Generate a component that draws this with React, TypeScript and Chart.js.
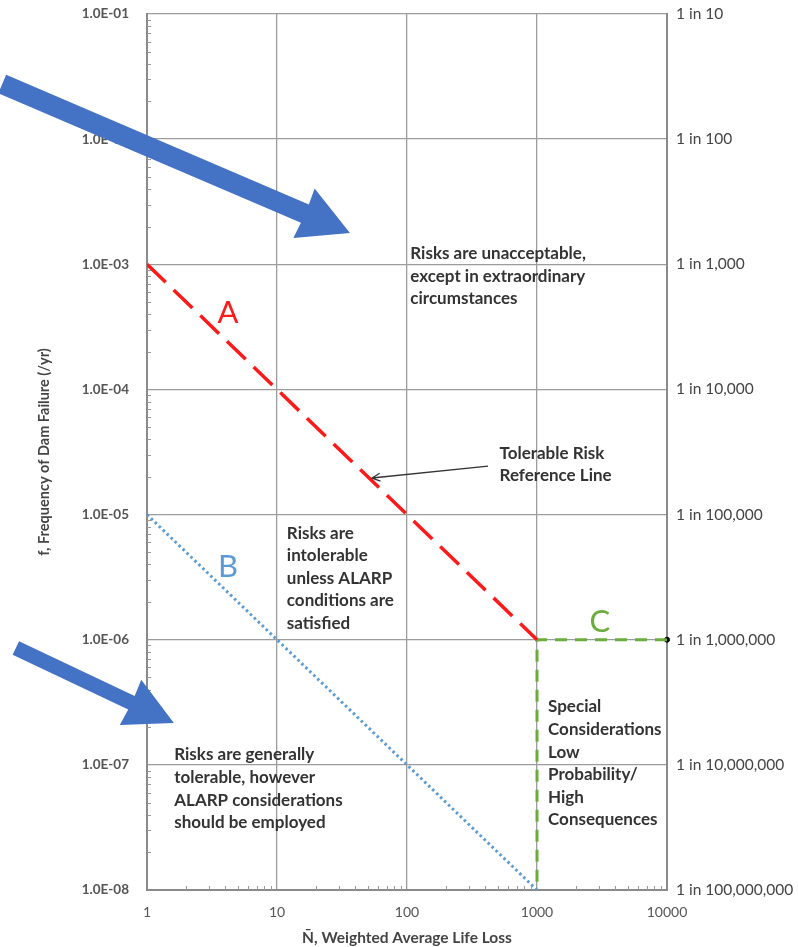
import React, { useEffect, useRef } from "react";
import { Chart, registerables } from "chart.js";

Chart.register(...registerables);

// ---- data ----
const xTicks = [1, 10, 100, 1000, 10000];
const xTickLabels = ["1", "10", "100", "1000", "10000"];
const yTicks = [1e-8, 1e-7, 1e-6, 1e-5, 1e-4, 1e-3, 1e-2, 1e-1];
const yTickLabels = ["1.0E-08", "1.0E-07", "1.0E-06", "1.0E-05", "1.0E-04", "1.0E-03", "1.0E-02", "1.0E-01"];
const yRightLabels = [
  "1 in 100,000,000",
  "1 in 10,000,000",
  "1 in 1,000,000",
  "1 in 100,000",
  "1 in 10,000",
  "1 in 1,000",
  "1 in 100",
  "1 in 10",
];

const lineAX = [1, 1000];
const lineAY = [1e-3, 1e-6];
const lineBX = [1, 1000];
const lineBY = [1e-5, 1e-8];
const lineCX = [10000, 1000, 1000];
const lineCY = [1e-6, 1e-6, 1e-8];
const markerX = [10000];
const markerY = [1e-6];

const xTitle = "N\u0304, Weighted Average Life Loss";
const yTitle = "f, Frequency of Dam Failure (/yr)";

const unacceptableLines = ["Risks are unacceptable,", "except in extraordinary", "circumstances"];
const referenceLines = ["Tolerable Risk", "Reference Line"];
const intolerableLines = ["Risks are", "intolerable", "unless ALARP", "conditions are", "satisfied"];
const tolerableLines = ["Risks are generally", "tolerable, however", "ALARP considerations", "should be employed"];
const specialLines = ["Special", "Considerations", "Low", "Probability/", "High", "Consequences"];
const lineLabels = ["A", "B", "C"];

// ---- annotation layout (data coordinates) ----
const textBlocks = [
  { lines: unacceptableLines, x: 106, y: 1.22e-3 },
  { lines: referenceLines, x: 515, y: 3.1e-5 },
  { lines: intolerableLines, x: 11.9, y: 7.1e-6 },
  { lines: tolerableLines, x: 1.62, y: 1.2e-7 },
  { lines: specialLines, x: 1216, y: 2.9e-7 },
];
const letterAnchors = [
  { x: 4.2, y: 4.1e-4, color: "#ff1a1a" },
  { x: 4.2, y: 3.8e-6, color: "#5b9bd5" },
  { x: 3050, y: 1.39e-6, color: "#6aad3d" },
];
const pointerFrom = { x: 420, y: 2.44e-5 };
const pointerTo = { x: 53.8, y: 1.96e-5 };
const bigArrows = [
  { from: { x: 0.077, y: 0.0276 }, to: { x: 36.4, y: 1.78e-3 }, shaft: 20, headLen: 50, headHalf: 27 },
  { from: { x: 0.098, y: 8.6e-7 }, to: { x: 1.61, y: 2.16e-7 }, shaft: 15, headLen: 48, headHalf: 25 },
];

const FONT = "Lato, 'Open Sans', sans-serif";

const overlayPlugin = {
  id: "overlay",
  afterDraw(chart: any) {
    const { ctx, chartArea } = chart;
    const xs = chart.scales.x;
    const ys = chart.scales.y;
    ctx.save();

    // minor ticks (inside)
    ctx.strokeStyle = "#999999";
    ctx.lineWidth = 1;
    ctx.beginPath();
    for (let d = -8; d < -1; d++) {
      for (let k = 2; k <= 9; k++) {
        const py = Math.round(ys.getPixelForValue(k * Math.pow(10, d))) + 0.5;
        ctx.moveTo(chartArea.left, py);
        ctx.lineTo(chartArea.left + 4, py);
      }
    }
    for (let d = 0; d < 4; d++) {
      for (let k = 2; k <= 9; k++) {
        const px = Math.round(xs.getPixelForValue(k * Math.pow(10, d))) + 0.5;
        ctx.moveTo(px, chartArea.bottom);
        ctx.lineTo(px, chartArea.bottom - 4);
      }
    }
    ctx.stroke();

    // text blocks
    ctx.fillStyle = "#333333";
    ctx.font = `bold 17px ${FONT}`;
    ctx.textAlign = "left";
    ctx.textBaseline = "middle";
    for (const b of textBlocks) {
      const px = xs.getPixelForValue(b.x);
      const py = ys.getPixelForValue(b.y);
      b.lines.forEach((t, i) => ctx.fillText(t, px, py + i * 22.6));
    }

    // A / B / C labels
    ctx.font = `31px ${FONT}`;
    ctx.textAlign = "center";
    lineLabels.forEach((t, i) => {
      const a = letterAnchors[i];
      ctx.fillStyle = a.color;
      ctx.fillText(t, xs.getPixelForValue(a.x), ys.getPixelForValue(a.y));
    });

    // pointer arrow
    const fx = xs.getPixelForValue(pointerFrom.x);
    const fy = ys.getPixelForValue(pointerFrom.y);
    const tx = xs.getPixelForValue(pointerTo.x);
    const ty = ys.getPixelForValue(pointerTo.y);
    ctx.strokeStyle = "#333";
    ctx.lineWidth = 1.3;
    ctx.beginPath();
    ctx.moveTo(fx, fy);
    ctx.lineTo(tx, ty);
    const ang = Math.atan2(ty - fy, tx - fx);
    const hl = 9;
    ctx.moveTo(tx - hl * Math.cos(ang - 0.45), ty - hl * Math.sin(ang - 0.45));
    ctx.lineTo(tx, ty);
    ctx.lineTo(tx - hl * Math.cos(ang + 0.45), ty - hl * Math.sin(ang + 0.45));
    ctx.stroke();

    // big blue arrows
    ctx.fillStyle = "#4472c4";
    for (const a of bigArrows) {
      const sx = xs.getPixelForValue(a.from.x);
      const sy = ys.getPixelForValue(a.from.y);
      const ex = xs.getPixelForValue(a.to.x);
      const ey = ys.getPixelForValue(a.to.y);
      const len = Math.hypot(ex - sx, ey - sy);
      const ux = (ex - sx) / len;
      const uy = (ey - sy) / len;
      const nx = -uy;
      const ny = ux;
      const bx = ex - ux * a.headLen;
      const by = ey - uy * a.headLen;
      const w = a.shaft / 2;
      ctx.beginPath();
      ctx.moveTo(sx + nx * w, sy + ny * w);
      ctx.lineTo(bx + ux + nx * w, by + uy + ny * w);
      ctx.lineTo(bx + nx * a.headHalf, by + ny * a.headHalf);
      ctx.lineTo(ex, ey);
      ctx.lineTo(bx - nx * a.headHalf, by - ny * a.headHalf);
      ctx.lineTo(bx + ux - nx * w, by + uy - ny * w);
      ctx.lineTo(sx - nx * w, sy - ny * w);
      ctx.closePath();
      ctx.fill();
    }
    ctx.restore();
  },
};

const toPoints = (xsArr: number[], ysArr: number[]) => xsArr.map((x, i) => ({ x, y: ysArr[i] }));

export default function App() {
  const ref = useRef<HTMLCanvasElement>(null);
  useEffect(() => {
    const gridColor = "#9c9c9c";
    const borderColor = "#8a8a8a";
    const chart = new Chart(ref.current as HTMLCanvasElement, {
      type: "scatter",
      data: {
        datasets: [
          {
            label: "A",
            data: toPoints(lineAX, lineAY),
            showLine: true,
            borderColor: "#ff1a1a",
            borderWidth: 3.5,
            borderDash: [26, 11],
            pointRadius: 0,
          },
          {
            label: "B",
            data: toPoints(lineBX, lineBY),
            showLine: true,
            borderColor: "#5b9bd5",
            borderWidth: 3,
            borderDash: [2.5, 3],
            pointRadius: 0,
          },
          {
            label: "C",
            data: toPoints(lineCX, lineCY),
            showLine: true,
            borderColor: "#6aad3d",
            borderWidth: 3,
            borderDash: [12, 8],
            pointRadius: 0,
          },
          {
            label: "marker",
            data: toPoints(markerX, markerY),
            showLine: false,
            pointRadius: 2.5,
            pointBackgroundColor: "#000",
            pointBorderColor: "#000",
            clip: false as any,
          },
        ],
      },
      options: {
        responsive: false,
        animation: false,
        layout: { padding: { top: 14, left: 0, right: 0, bottom: 0 } },
        plugins: { legend: { display: false }, tooltip: { enabled: false } },
        scales: {
          x: {
            type: "logarithmic",
            position: "bottom",
            min: 1,
            max: 10000,
            afterBuildTicks: (axis: any) => {
              axis.ticks = xTicks.map((v) => ({ value: v }));
            },
            afterFit: (axis: any) => {
              axis.height = 57;
              axis.paddingLeft = 0;
              axis.paddingRight = 0;
            },
            grid: { color: gridColor, lineWidth: 1.3, drawTicks: false },
            border: { color: borderColor, width: 2 },
            ticks: {
              padding: 14,
              color: "#555",
              font: { family: FONT, size: 14 },
              maxRotation: 0,
              autoSkip: false,
              callback: (_v: any, i: number) => xTickLabels[i],
            },
            title: {
              display: true,
              text: xTitle,
              color: "#444",
              font: { family: FONT, size: 15.5, weight: "bold" },
              padding: { top: 0, bottom: 0 },
            },
          },
          y: {
            type: "logarithmic",
            position: "left",
            min: 1e-8,
            max: 1e-1,
            afterBuildTicks: (axis: any) => {
              axis.ticks = yTicks.map((v) => ({ value: v }));
            },
            afterFit: (axis: any) => {
              axis.width = 147;
              axis.paddingTop = 0;
              axis.paddingBottom = 0;
            },
            grid: { color: gridColor, lineWidth: 1.3, drawTicks: false },
            border: { color: borderColor, width: 2 },
            ticks: {
              padding: 18,
              color: "#555",
              font: { family: FONT, size: 13.5, weight: "bold" },
              autoSkip: false,
              callback: (_v: any, i: number) => yTickLabels[i],
            },
            title: {
              display: true,
              text: yTitle,
              color: "#444",
              font: { family: FONT, size: 14.5, weight: "bold" },
              padding: { top: 36, bottom: 0 },
            },
          },
          y2: {
            type: "logarithmic",
            position: "right",
            min: 1e-8,
            max: 1e-1,
            afterBuildTicks: (axis: any) => {
              axis.ticks = yTicks.map((v) => ({ value: v }));
            },
            afterFit: (axis: any) => {
              axis.width = 131;
              axis.paddingTop = 0;
              axis.paddingBottom = 0;
            },
            grid: { drawOnChartArea: false, drawTicks: false },
            border: { color: borderColor, width: 2 },
            ticks: {
              padding: 9,
              color: "#444",
              font: { family: FONT, size: 15.5 },
              autoSkip: false,
              callback: (_v: any, i: number) => yRightLabels[i],
            },
          },
        },
      },
      plugins: [overlayPlugin],
    } as any);
    return () => chart.destroy();
  }, []);
  return (
    <div style={{ position: "absolute", left: 0, top: 0, width: 798, height: 947, background: "#fff" }}>
      <canvas ref={ref} width={798} height={947} style={{ display: "block", width: 798, height: 947 }} />
    </div>
  );
}
